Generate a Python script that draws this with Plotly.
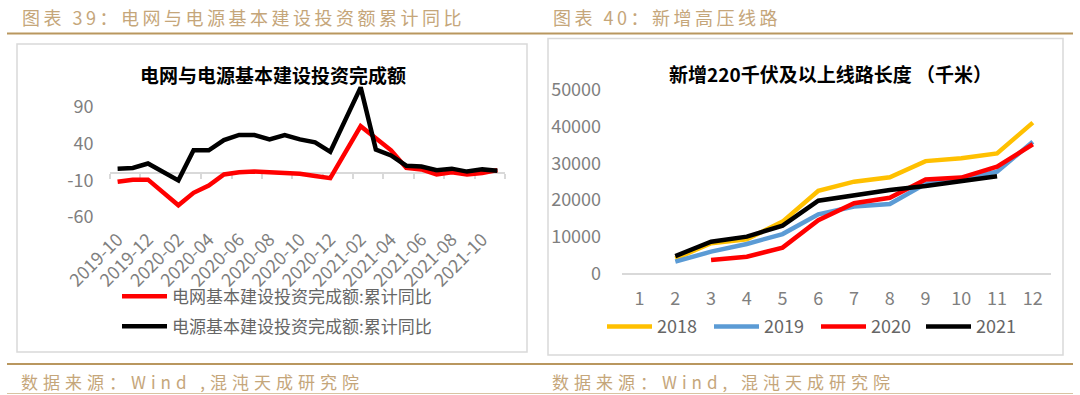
import plotly.graph_objects as go

# ---------------- data ----------------
months_left = ["2019-10", "2019-11", "2019-12",
               "2020-02", "2020-03", "2020-04", "2020-05", "2020-06", "2020-07",
               "2020-08", "2020-09", "2020-10", "2020-11", "2020-12",
               "2021-02", "2021-03", "2021-04", "2021-05", "2021-06", "2021-07",
               "2021-08", "2021-09", "2021-10", "2021-11"]
grid_yoy = [-12, -9, -9, -44, -27, -17, -2, 1, 2, 1, -1, -1, -4, -7,
            64, 47, 31, 7, 5, -2, 1, -2, 0, 4]
power_yoy = [6, 7, 13, -10, 31, 31, 45, 52, 52, 46, 52, 46, 42, 29,
             117, 32, 24, 10, 9, 4, 6, 2, 5, 3]
left_tick_text = ["2019-10", "2019-12", "2020-02", "2020-04", "2020-06", "2020-08",
                  "2020-10", "2020-12", "2021-02", "2021-04", "2021-06", "2021-08",
                  "2021-10"]
left_y_ticks = [-60, -10, 40, 90]

months_right = [1, 2, 3, 4, 5, 6, 7, 8, 9, 10, 11, 12]
len_2018 = [None, 4000, 8200, 9300, 14100, 22500, 25000, 26200, 30600, 31400, 32700, 41100]
len_2019 = [None, 3200, 5900, 8000, 10700, 16100, 18200, 18900, 24400, 25700, 27700, 35900]
len_2020 = [None, None, 3600, 4500, 7000, 14500, 19100, 20600, 25600, 26100, 29100, 35200]
len_2021 = [None, 4700, 8600, 10000, 13000, 19800, 21400, 22700, 23800, 25200, 26500, None]
right_y_ticks = [0, 10000, 20000, 30000, 40000, 50000]

# ---------------- helpers ----------------
W, H = 1080, 395
FONT = "Noto Sans CJK SC"
TAN_TEXT = "#c5a67a"
TAN_LINE = "#b9975f"
GRAY = "#7f7f7f"


def px(x):
    return x / W


def py(y):
    return 1 - y / H


def month_index(s):
    y, m = s.split("-")
    return (int(y) - 2019) * 12 + int(m) - 10


x_left = [month_index(s) for s in months_left]
left_tick_vals = [month_index(s) for s in left_tick_text]
left_boundaries = [v - 0.5 for v in left_tick_vals] + [left_tick_vals[-1] + 1.5]

L_YMIN, L_YMAX = -60, 125
L_DOM_Y = [py(217), py(81.5)]
L_DOM_X = [px(110), px(505)]
R_DOM_X = [px(621.7), px(1050.7)]
R_DOM_Y = [py(273.3), py(90)]

fig = go.Figure()

# ---------------- left chart ----------------
fig.add_trace(go.Scatter(
    x=x_left, y=grid_yoy, mode="lines", name="电网基本建设投资完成额:累计同比",
    line=dict(color="#ff0000", width=4.5), xaxis="x", yaxis="y", legend="legend"))
fig.add_trace(go.Scatter(
    x=x_left, y=power_yoy, mode="lines", name="电源基本建设投资完成额:累计同比",
    line=dict(color="#000000", width=4.5), xaxis="x", yaxis="y", legend="legend2"))
# invisible trace to carry the zero-line axis
fig.add_trace(go.Scatter(x=[x_left[0]], y=[0], mode="markers", marker=dict(opacity=0),
                         showlegend=False, hoverinfo="skip", xaxis="x3", yaxis="y"))

# ---------------- right chart ----------------
right_series = [("2018", len_2018, "#ffc000", "legend3"),
                ("2019", len_2019, "#5b9bd5", "legend4"),
                ("2020", len_2020, "#ff0000", "legend5"),
                ("2021", len_2021, "#000000", "legend6")]
for name, vals, col, lg in right_series:
    fig.add_trace(go.Scatter(
        x=months_right, y=vals, mode="lines", name=name,
        line=dict(color=col, width=4.5), xaxis="x2", yaxis="y2", legend=lg))

zero_pos = L_DOM_Y[0] + (0 - L_YMIN) / (L_YMAX - L_YMIN) * (L_DOM_Y[1] - L_DOM_Y[0])

tickfont = dict(family=FONT, size=18, color=GRAY)

layout = dict(
    width=W, height=H, margin=dict(l=0, r=0, t=0, b=0, autoexpand=False),
    paper_bgcolor="white", plot_bgcolor="rgba(0,0,0,0)",
    font=dict(family=FONT),
    xaxis=dict(domain=L_DOM_X, range=[-0.5, 25.5], anchor="y", showline=False,
               showgrid=False, zeroline=False, tickmode="array", automargin=False,
               tickvals=left_tick_vals, ticktext=left_tick_text, tickangle=-45,
               tickfont=tickfont, ticks="outside", ticklen=4,
               tickcolor="rgba(0,0,0,0)"),
    xaxis3=dict(range=[-0.5, 25.5], overlaying="x", anchor="free", position=zero_pos,
                domain=L_DOM_X, showline=True, linecolor="#d9d9d9", linewidth=1.5,
                ticks="outside", ticklen=5, tickcolor="#d9d9d9", tickwidth=1.5,
                tickmode="array", tickvals=left_boundaries, showticklabels=False,
                showgrid=False, zeroline=False, layer="below traces", automargin=False),
    yaxis=dict(domain=L_DOM_Y, range=[L_YMIN, L_YMAX], anchor="x", showline=False,
               showgrid=False, zeroline=False, tickmode="array", tickvals=left_y_ticks,
               ticktext=[str(v) for v in left_y_ticks], automargin=False,
               tickfont=tickfont, ticks="outside", ticklen=12,
               tickcolor="rgba(0,0,0,0)"),
    xaxis2=dict(domain=R_DOM_X, range=[0.5, 12.5], anchor="y2", showline=True,
                linecolor="#d9d9d9", linewidth=1.5, showgrid=False, zeroline=False,
                tickmode="array", tickvals=months_right, tickfont=tickfont,
                ticks="outside", ticklen=8, tickcolor="rgba(0,0,0,0)", automargin=False),
    yaxis2=dict(domain=R_DOM_Y, range=[0, 50000], anchor="x2", showline=False,
                showgrid=False, zeroline=False, tickmode="array",
                tickvals=right_y_ticks, ticktext=[str(v) for v in right_y_ticks],
                tickfont=tickfont, ticks="outside", automargin=False,
                ticklen=16, tickcolor="rgba(0,0,0,0)"),
)

leg_font_l = dict(family=FONT, size=17, color="#666666")
leg_font_r = dict(family=FONT, size=18, color="#666666")
layout["legend"] = dict(x=px(117), y=py(296.7), xanchor="left", yanchor="middle",
                        font=leg_font_l, bgcolor="rgba(0,0,0,0)", itemwidth=45)
layout["legend2"] = dict(x=px(117), y=py(326.7), xanchor="left", yanchor="middle",
                         font=leg_font_l, bgcolor="rgba(0,0,0,0)", itemwidth=45)
for lg, xs in zip(["legend3", "legend4", "legend5", "legend6"], [602, 709, 816, 921]):
    layout[lg] = dict(x=px(xs), y=py(326.7), xanchor="left", yanchor="middle",
                      font=leg_font_r, bgcolor="rgba(0,0,0,0)", itemwidth=45)

shapes = []
# panel borders
shapes.append(dict(type="rect", xref="paper", yref="paper", x0=px(17), x1=px(527),
                   y0=py(352), y1=py(44), line=dict(color="#d9d9d9", width=1.5)))
shapes.append(dict(type="rect", xref="paper", yref="paper", x0=px(548), x1=px(1063),
                   y0=py(355), y1=py(38.5), line=dict(color="#d9d9d9", width=1.5)))
# header/footer rules
shapes.append(dict(type="line", xref="paper", yref="paper", x0=px(7), x1=px(1073),
                   y0=py(33.5), y1=py(33.5), line=dict(color=TAN_LINE, width=2)))
shapes.append(dict(type="line", xref="paper", yref="paper", x0=px(7), x1=px(1073),
                   y0=py(364), y1=py(364), line=dict(color=TAN_LINE, width=2)))
shapes.append(dict(type="line", xref="paper", yref="paper", x0=px(7), x1=px(1073),
                   y0=py(393.5), y1=py(393.5), line=dict(color="#d8c4a2", width=1)))
layout["shapes"] = shapes


def spaced(t, sp):
    return '<span style="letter-spacing:%spx">%s</span>' % (sp, t)


annos = [
    dict(text=spaced("图表 39：电网与电源基本建设投资额累计同比", 3.5), x=px(20), y=py(17),
         xanchor="left", yanchor="middle", font=dict(family=FONT, size=18, color=TAN_TEXT)),
    dict(text=spaced("图表 40：新增高压线路", 3.5), x=px(551), y=py(17),
         xanchor="left", yanchor="middle", font=dict(family=FONT, size=18, color=TAN_TEXT)),
    dict(text=spaced("数据来源：Wind ,混沌天成研究院", 5), x=px(19), y=py(381),
         xanchor="left", yanchor="middle", font=dict(family=FONT, size=17, color=TAN_TEXT)),
    dict(text=spaced("数据来源：Wind, 混沌天成研究院", 5), x=px(550), y=py(381),
         xanchor="left", yanchor="middle", font=dict(family=FONT, size=17, color=TAN_TEXT)),
    dict(text="<b>电网与电源基本建设投资完成额</b>", x=px(273), y=py(74),
         xanchor="center", yanchor="middle", font=dict(family=FONT, size=19, color="#000000")),
    dict(text="<b>新增220千伏及以上线路长度 （千米）</b>", x=px(830), y=py(73),
         xanchor="center", yanchor="middle", font=dict(family=FONT, size=19, color="#000000")),
]
for a in annos:
    a.update(xref="paper", yref="paper", showarrow=False)
layout["annotations"] = annos

fig.update_layout(**layout)

fig.write_html("out.html", include_plotlyjs=True, config={"displayModeBar": False},
               post_script="document.body.style.margin='0';document.body.style.overflow='hidden';")
